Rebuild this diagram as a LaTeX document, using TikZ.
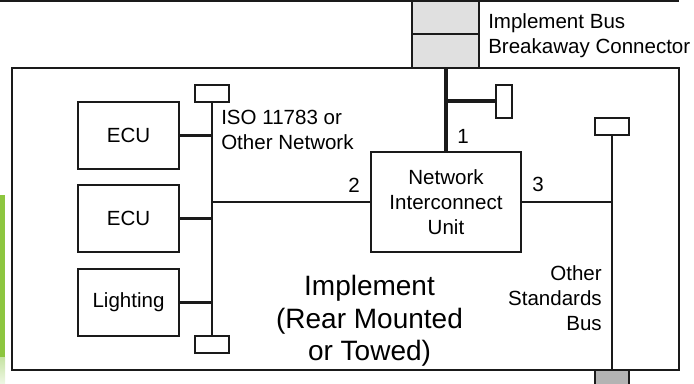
\documentclass[tikz,border=0pt]{standalone}
\usepackage{fontspec}
\setmainfont{Liberation Sans}
\definecolor{edge}{HTML}{1A1A1A}
\definecolor{plug}{HTML}{E0E0E0}
\definecolor{plugdark}{HTML}{B3B3B3}
\definecolor{leaf}{HTML}{8DC63F}
\definecolor{leaflight}{HTML}{D6EBBE}
\begin{document}
\begin{tikzpicture}[x=0.75pt,y=-0.75pt,
  small/.style={font=\fontsize{15.4}{18.75}\selectfont},
  large/.style={font=\fontsize{21}{24.4}\selectfont},
  box/.style={draw=edge,line width=1.1pt,fill=white,inner sep=0pt,align=center,small},
  term/.style={draw=edge,line width=1.1pt,fill=white,inner sep=0pt},
  plugbox/.style={draw=edge,line width=1.9pt,fill=plug,inner sep=0pt},
  lbl/.style={inner sep=0pt,small},
  thinbus/.style={draw=edge,line width=1.1pt},
  bus/.style={draw=edge,line width=1.6pt},
  trunk/.style={draw=edge,line width=3pt}]
\useasboundingbox (0,0) rectangle (694,384);

% edge of a neighbouring panel
\fill[leaf] (0,195) rectangle (5,358);
\shade[top color=leaflight!80!leaf, bottom color=leaflight!40] (0,358) rectangle (5,384);

% tractor side boundary
\coordinate (tl) at (0,1);
\coordinate (tr) at (679,1);
\draw[edge,line width=1.5pt] (tl) -- (tr);

% implement frame
\node[box,minimum width={667*0.75pt},minimum height={302*0.75pt}] (impl) at (345.5,219) {};

% breakaway connector halves
\node[plugbox,minimum width={67*0.75pt},minimum height={33*0.75pt}] (conA) at (445.5,17.5) {};
\node[plugbox,minimum width={67*0.75pt},minimum height={34*0.75pt}] (conB) at (445.5,51) {};

% units
\node[box,minimum width={150*0.75pt},minimum height={100*0.75pt}] (niu) at (446,202) {Network\\Interconnect\\Unit};
\node[box,minimum width={101*0.75pt},minimum height={67*0.75pt}] (ecuA) at (128.5,135.5) {ECU};
\node[box,minimum width={101*0.75pt},minimum height={67*0.75pt}] (ecuB) at (128.5,218.5) {ECU};
\node[box,minimum width={101*0.75pt},minimum height={67*0.75pt}] (light) at (128.5,302.5) {Lighting};

% bus terminators
\node[term,minimum width={34*0.75pt},minimum height={17*0.75pt}] (lt) at (212,93.5) {};
\node[term,minimum width={34*0.75pt},minimum height={17*0.75pt}] (lb) at (212,344.5) {};
\node[term,minimum width={34*0.75pt},minimum height={17*0.75pt}] (rt) at (612,126.5) {};
\node[term,minimum width={16*0.75pt},minimum height={33*0.75pt}] (vt) at (504,101.5) {};

% connectors
\draw[trunk] (conB.south) -- (conB.south |- niu.north);
\draw[trunk] (conB.south |- vt.west) -- (vt.west);
\draw[bus] (lt.south) -- (lb.north);
\draw[bus] (ecuA.east) -- (ecuA.east -| lt.south);
\draw[bus] (ecuB.east) -- (ecuB.east -| lt.south);
\draw[bus] (light.east) -- (light.east -| lt.south);
\draw[bus] (niu.west) -- (niu.west -| lt.south);
\draw[bus] (niu.east) -- (niu.east -| rt.south);
\draw[thinbus] (rt.south) -- (612,370);

% other standards bus plug at the lower edge
\node[draw=edge,line width=1.9pt,fill=plugdark,inner sep=0pt,minimum width={34*0.75pt},minimum height={16*0.75pt}] (rb) at (612,378) {};
\draw[thinbus] (612,370) -- (rb.north);

% labels
\node[lbl,align=left,anchor=north west] (brk) at (488,13.3) {Implement Bus\\Breakaway Connector};
\node[lbl,align=left,anchor=north west] (iso) at (221,110.3) {ISO 11783 or\\Other Network};
\node[lbl,anchor=north west] (p1) at (457,129.5) {1};
\node[lbl,anchor=north west] (p2) at (348,177.5) {2};
\node[lbl,anchor=north west] (p3) at (532,176.5) {3};
\node[lbl,align=right,anchor=north east] (osb) at (602,265.3) {Other\\Standards\\Bus};
\node[inner sep=0pt,large,align=center,anchor=north] (name) at (369.5,275) {Implement\\(Rear Mounted\\or Towed)};
\end{tikzpicture}
\end{document}
